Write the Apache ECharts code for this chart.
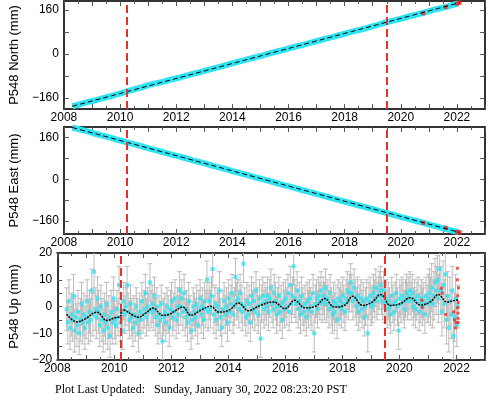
<!DOCTYPE html>
<html>
<head>
<meta charset="utf-8">
<script src="https://cdn.jsdelivr.net/npm/echarts@6/dist/echarts.min.js"></script>
<style>
  html, body { margin: 0; padding: 0; background: #fff; }
  #chart { width: 488px; height: 400px; }
</style>
</head>
<body>
<div id="chart"></div>
<script>
// station P548 time series (mm)
const eventYears = [2010.23, 2019.49];
const xTickYears = [2008, 2010, 2012, 2014, 2016, 2018, 2020, 2022];

const neYears = [2008.30, 2008.55, 2008.80, 2009.05, 2009.30, 2009.55, 2009.80, 2010.05, 2010.30, 2010.55,
  2010.80, 2011.05, 2011.30, 2011.55, 2011.80, 2012.05, 2012.30, 2012.55, 2012.80, 2013.05,
  2013.30, 2013.55, 2013.80, 2014.05, 2014.30, 2014.55, 2014.80, 2015.05, 2015.30, 2015.55,
  2015.80, 2016.05, 2016.30, 2016.55, 2016.80, 2017.05, 2017.30, 2017.55, 2017.80, 2018.05,
  2018.30, 2018.55, 2018.80, 2019.05, 2019.30, 2019.55, 2019.80, 2020.05, 2020.30, 2020.55,
  2020.80, 2021.05, 2021.30, 2021.55, 2021.80, 2022.05];
const north = [-191, -184, -177, -171, -164, -157, -150, -143, -135, -128,
  -121, -112, -107, -101, -94, -88, -81, -74, -68, -60,
  -54, -47, -40, -33, -26, -19, -13, -6, 1, 8,
  14, 21, 28, 34, 41, 48, 55, 61, 68, 75,
  82, 88, 95, 102, 110, 117, 123, 130, 137, 143,
  150, 157, 164, 170, 177, 184];
const east = [199, 192, 185, 177, 170, 163, 155, 148, 140, 133,
  126, 118, 111, 104, 96, 89, 82, 74, 67, 60,
  52, 45, 38, 30, 23, 16, 8, 1, -6, -14,
  -21, -28, -36, -43, -50, -58, -65, -72, -80, -87,
  -94, -102, -109, -116, -124, -131, -138, -146, -153, -160,
  -167, -175, -182, -189, -196, -203];
const modelYearsNE = [2008.30, 2022.10];
const northModel = [-191, 187];
const eastModel = [199, -204];

const northRapid = [[2020.80, 148], [2021.60, 171], [2022.00, 183], [2022.05, 185], [2022.10, 187]];
const eastRapid = [[2020.80, -167], [2021.60, -186], [2022.00, -202], [2022.05, -204], [2022.10, -203]];

// Up: one sample every 0.04 yr from 2008.33
const upStart = 2008.33, upStep = 0.04;
const up = [
  -1, -6, 2, -8, -3, -5, 4, -9, -4, -7, -2, -10, -5, 1, -6, -3, -8, -4, 2, -6, -2, -5, 6, -3, 13,
  -1, -4, 3, -2, -7, 0, -5, -9, -3, -6, 1, -8, -4, -11, -2, -6, 3, -5, -7, -1, -4, 8, -6, -2, -9,
  2, -3, 0, 8, -2, -5, 1, -4, -8, -3, -6, 0, -4, -10, -2, -5, 2, -3, -1, 5, -4, 0, -2, 9, -1,
  1, -2, 4, -4, 0, -7, -3, -5, 1, -13, -4, -2, -6, 0, -3, -8, -1, 2, -4, -2, 3, -5, 0, -3, 6,
  0, 3, -2, 5, -4, -1, -6, 2, -3, -9, -5, 0, -2, -4, 1, -7, -1, 3, -3, 0, -5, 2, -1, 10, -2,
  2, -1, 4, 14, -3, 1, -5, 0, -2, 6, -4, -8, -1, 2, -3, 0, -6, 3, -2, 1, 5, -3, 0, 11, 2,
  3, -1, 5, 1, -2, 16, 0, -4, 2, -3, 1, -6, 4, -1, 2, -2, 6, 0, -3, 3, -12, 1, 4, -1, 2,
  0, 4, -2, 3, 7, 1, -1, 5, 2, -3, 0, 4, -2, 1, -5, 2, -1, 3, 0, 5, -2, 8, 1, 4, 15,
  3, 1, 6, -1, 2, -3, 4, 0, -2, 1, -4, 2, -1, 3, 0, -2, 5, -10, 1, 3, -1, 4, 2, 6, 1,
  4, 2, 7, 1, 3, -1, 5, 0, -3, 2, -2, 1, -5, 3, 0, 2, -1, 4, 1, -2, 3, 6, 2, 5, 9,
  5, 2, 7, 3, 0, 4, -2, 1, 3, -1, 2, -4, 0, 3, -10, 2, 4, 0, 1, 5, 3, 7, 2, 4, 6,
  8, 4, 2, 6, 1, 3, -1, 2, 0, -3, 4, 1, -2, 2, 5, 0, -9, 3, 1, 4, 2, -1, 3, 5, 2,
  4, 6, 2, 5, 0, 3, -1, 2, 4, -2, 1, 3, 0, 2, -3, 4, 1, 3, 5, 2, 7, 1, 4, 9, 6,
  10, 3, 14, 6, -2, 8, 1, 12, -5, 4, -8, 2, -3, 6, -11, -4, 3, -7, 0
];
// 1-sigma error by calendar year 2008..2022
const upSigma = [8, 8, 7, 7, 7, 7, 7, 7, 7, 7, 7, 7, 7, 9, 8];

const upModelYears = [2008.33, 2008.69, 2008.98, 2009.39, 2009.74, 2010.02, 2010.22, 2010.26, 2010.37, 2010.66,
  2010.84, 2011.10, 2011.36, 2011.70, 2011.94, 2012.15, 2012.40, 2012.69, 2013.03, 2013.38,
  2013.67, 2014.02, 2014.36, 2014.70, 2015.12, 2015.58, 2015.99, 2016.33, 2016.68, 2017.08,
  2017.38, 2017.72, 2018.07, 2018.36, 2018.71, 2019.05, 2019.34, 2019.69, 2020.04, 2020.38,
  2020.73, 2021.08, 2021.37, 2021.66, 2021.95, 2022.06];
const upModel = [-2.9, -5.8, -4.6, -2.1, -5.2, -4.2, -3.6, -1.2, -1.4, -3.3,
  -4.0, -2.5, -0.6, -3.3, -2.9, -1.5, -0.2, -3.3, -1.4, 0.1,
  -2.1, -1.4, 1.3, -1.6, 0.4, 1.7, -0.8, 2.3, -0.5, 0.2,
  3.0, -0.2, 0.4, 3.8, 0.4, 1.7, 4.5, 0.4, 1.1, 3.3,
  0.6, 1.7, 4.5, 1.7, 2.3, 2.5];

const upRapid = [[2020.78, 2.3], [2020.80, -0.3], [2021.47, 6.8], [2021.50, 5.0], [2021.62, -3.0],
  [2021.90, -2.0], [2021.93, -5.0], [2021.96, -8.0], [2021.99, -6.0], [2022.03, 14.3],
  [2022.03, 10.0], [2022.04, 4.0], [2022.04, -0.5], [2022.05, -2.5], [2022.05, -4.4],
  [2022.06, -6.0], [2022.06, 1.5], [2022.07, 7.0]];

const CYAN = "#2ee4f2";
const RED = "#e8302a";
const FRAME = "#333";
const FONT = "Liberation Sans";

const zip = (xs, ys) => xs.map((x, i) => [x, ys[i]]);
const minus = (v) => String(v).replace("-", "\u2212");

const panels = [
  { top: 1, height: 108, min: -201, max: 193, ticks: [-160, -80, 0, 80, 160], labels: [-160, 0, 160], name: "P548 North (mm)", gap: 38 },
  { top: 127, height: 107, min: -210, max: 201, ticks: [-160, -80, 0, 80, 160], labels: [-160, 0, 160], name: "P548 East (mm)", gap: 38 },
  { top: 253, height: 107, min: -20, max: 20, ticks: [-20, -15, -10, -5, 0, 5, 10, 15, 20], labels: [-20, -10, 0, 10, 20], name: "P548 Up (mm)", gap: 33 },
];

const grid = [], xAxis = [], yAxis = [];
panels.forEach((p, i) => {
  grid.push({ left: 55, right: 1, top: p.top, height: p.height });
  ["bottom", "top"].forEach((pos) => {
    xAxis.push({
      type: "value", gridIndex: i, position: pos, min: 2008, max: 2023, interval: 1,
      axisLine: { onZero: false, lineStyle: { color: FRAME, width: 2 } },
      axisTick: { inside: true, length: 5, lineStyle: { color: "#555", width: 1 } },
      minorTick: { show: true, splitNumber: 2, length: 3, lineStyle: { color: "#555" } },
      splitLine: { show: false },
      axisLabel: {
        show: pos === "bottom", margin: 3, color: "#000", fontFamily: FONT, fontSize: 12,
        formatter: (v) => (xTickYears.includes(v) ? String(v) : ""),
      },
    });
  });
  ["left", "right"].forEach((pos) => {
    yAxis.push({
      type: "value", gridIndex: i, position: pos, min: p.min, max: p.max,
      name: pos === "left" ? p.name : "", nameLocation: "middle", nameRotate: 90, nameGap: p.gap,
      nameTextStyle: { color: "#000", fontFamily: FONT, fontSize: 13 },
      axisLine: { onZero: false, lineStyle: { color: FRAME, width: 2 } },
      axisTick: { inside: true, length: 5, customValues: p.ticks, lineStyle: { color: "#555" } },
      splitLine: { show: false },
      axisLabel: {
        show: pos === "left", margin: 5, color: "#000", fontFamily: FONT, fontSize: 12,
        customValues: p.labels, formatter: minus,
      },
    });
  });
});

const eventLines = {
  silent: true, symbol: "none", animation: false,
  label: { show: false },
  lineStyle: { color: RED, width: 2, type: [8, 4] },
  data: eventYears.map((x) => ({ xAxis: x })),
};

const series = [];
// North / East panels
[[north, northModel, northRapid], [east, eastModel, eastRapid]].forEach(([vals, model, rapid], i) => {
  series.push({
    type: "line", xAxisIndex: 2 * i, yAxisIndex: 2 * i, data: zip(neYears, vals),
    symbol: "none", lineStyle: { color: CYAN, width: 6 }, z: 2,
  });
  series.push({
    type: "scatter", xAxisIndex: 2 * i, yAxisIndex: 2 * i, data: rapid,
    symbol: "rect", symbolSize: 4, itemStyle: { color: RED }, z: 3,
  });
  series.push({
    type: "line", xAxisIndex: 2 * i, yAxisIndex: 2 * i, data: zip(modelYearsNE, model),
    symbol: "none", lineStyle: { color: "#000", width: 1, type: [5, 3] }, z: 4,
    markLine: eventLines,
  });
});

// Up panel
const upData = up.map((v, i) => {
  const t = +(upStart + i * upStep).toFixed(2);
  return [t, v, upSigma[Math.floor(t) - 2008]];
});

series.push({
  type: "custom", xAxisIndex: 4, yAxisIndex: 4, data: upData, clip: true, z: 1,
  encode: { x: 0, y: 1 },
  renderItem: (params, api) => {
    const x = api.value(0), v = api.value(1), e = api.value(2);
    const hi = api.coord([x, v + e]), lo = api.coord([x, v - e]);
    const st = { stroke: "#bcbcbc", lineWidth: 1 };
    return {
      type: "group",
      children: [
        { type: "line", shape: { x1: hi[0], y1: hi[1], x2: lo[0], y2: lo[1] }, style: st },
        { type: "line", shape: { x1: hi[0] - 2.5, y1: hi[1], x2: hi[0] + 2.5, y2: hi[1] }, style: st },
        { type: "line", shape: { x1: lo[0] - 2.5, y1: lo[1], x2: lo[0] + 2.5, y2: lo[1] }, style: st },
      ],
    };
  },
});
series.push({
  type: "scatter", xAxisIndex: 4, yAxisIndex: 4, data: upData.map((d) => [d[0], d[1]]),
  symbol: "rect", symbolSize: 4, itemStyle: { color: CYAN }, z: 2,
});
series.push({
  type: "scatter", xAxisIndex: 4, yAxisIndex: 4, data: upRapid,
  symbol: "rect", symbolSize: 3, itemStyle: { color: RED }, z: 3,
});
series.push({
  type: "line", xAxisIndex: 4, yAxisIndex: 4, data: zip(upModelYears, upModel),
  symbol: "none", smooth: 0.4, lineStyle: { color: "#000", width: 1.5, type: [2, 1] }, z: 4,
  markLine: eventLines,
});

const chart = echarts.init(document.getElementById("chart"), null, { renderer: "canvas" });
chart.setOption({
  animation: false,
  backgroundColor: "#fff",
  grid, xAxis, yAxis, series,
  graphic: [{
    type: "text", left: 55, top: 384,
    style: {
      text: "Plot Last Updated:   Sunday, January 30, 2022 08:23:20 PST",
      font: '12px "Liberation Serif"', fill: "#000",
    },
  }],
});
</script>
</body>
</html>
